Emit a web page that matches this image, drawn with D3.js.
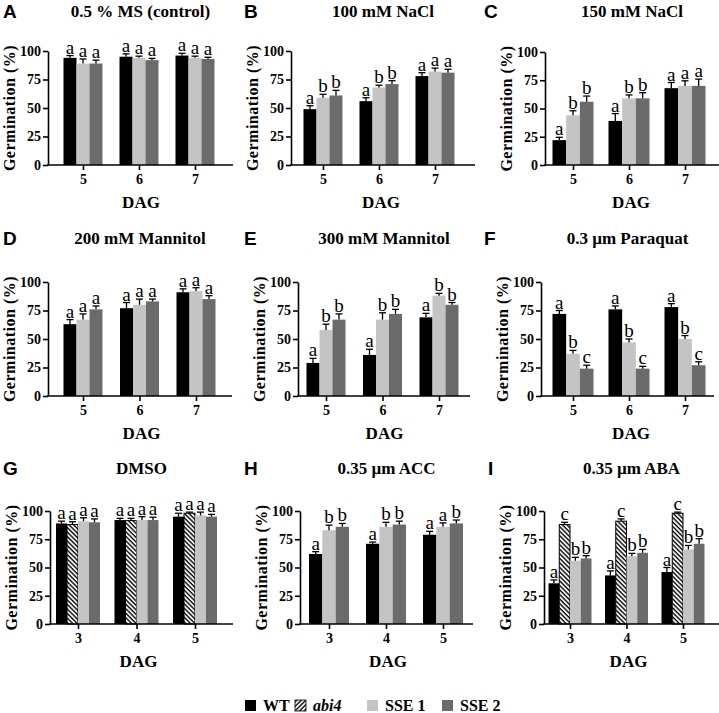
<!DOCTYPE html>
<html><head><meta charset="utf-8">
<script src="https://cdn.jsdelivr.net/npm/d3@7"></script>
<style>
body{margin:0;background:#fff}
svg{display:block}
</style></head>
<body>
<svg id="chart" width="719" height="713" style="font-family:'Liberation Serif','Times New Roman','DejaVu Serif',serif"></svg>
<script>
// ---------------- DATA ----------------
const panelLetters = ["A","B","C","D","E","F","G","H","I"];
const panelTitles = ["0.5 % MS (control)","100 mM NaCl","150 mM NaCl","200 mM Mannitol","300 mM Mannitol","0.3 \u00b5m Paraquat","DMSO","0.35 \u00b5m ACC","0.35 \u00b5m ABA"];
const daysEarly = ["5","6","7"];
const daysLate = ["3","4","5"];
const yTickValues = [0,25,50,75,100];
const seriesThree = ["WT","SSE 1","SSE 2"];
const seriesFour = ["WT","abi4","SSE 1","SSE 2"];
const legendSeries = ["WT","abi4","SSE 1","SSE 2"];

// means [series][day]
const meansA = [[94,95,96],[89,94,94],[89,92,93]];
const errsA  = [[2,2.5,2],[4,1.5,1.5],[3,1.5,1.5]];
const lettersA = [["a","a","a"],["a","a","a"],["a","a","a"]];

const meansB = [[49,56,78],[59,68,82],[61,71,81]];
const errsB  = [[3,3,3],[3,2,3],[4.5,3,3]];
const lettersB = [["a","a","a"],["b","b","a"],["b","b","a"]];

const meansC = [[22,39,68],[44,59,70],[56,59,70]];
const errsC  = [[2.5,6.5,5],[4,3,4.5],[5,5,6]];
const lettersC = [["a","a","a"],["b","b","a"],["b","b","a"]];

const meansD = [[63,77,91],[67,80,92],[76,83,85]];
const errsD  = [[4,5,3],[5,5,3],[3,2,3]];
const lettersD = [["a","a","a"],["a","a","a"],["a","a","a"]];

const meansE = [[29,36,69],[58,67,88],[67,72,80]];
const errsE  = [[4,5,3.5],[5,6,2],[5,4,2]];
const lettersE = [["a","a","a"],["b","b","b"],["b","b","b"]];

const meansF = [[72,76,78],[37,47,50],[24,24,27]];
const errsF  = [[3,3,3],[3,3,3],[3,2,3]];
const lettersF = [["a","a","a"],["b","b","b"],["c","c","c"]];

const meansG = [[89,92,95],[88,91.5,98],[91,92,96],[90,92,95]];
const errsG  = [[2,1.5,3],[2.5,2,1],[3,3,3],[3,2.5,2]];
const lettersG = [["a","a","a"],["a","a","a"],["a","a","a"],["a","a","a"]];

const meansH = [[62,71,79],[83,86,86],[86,88,89]];
const errsH  = [[2,1.5,3],[4.5,4,3.5],[3,3,3]];
const lettersH = [["a","a","a"],["b","b","a"],["b","b","b"]];

const meansI = [[36,43,46],[88,91,98],[56,60,66],[58,63,71]];
const errsI  = [[3,4,4],[2,2,1],[3,2.5,3.5],[2.5,3,4.5]];
const lettersI = [["a","a","a"],["c","c","c"],["b","b","b"],["b","b","b"]];

// ---------------- LAYOUT ----------------
const SERIF = "'Liberation Serif','Times New Roman','DejaVu Serif',serif";
const SANS = "'Liberation Sans',Arial,sans-serif";
const frames = [
  {x0:48, x1:233, t0:83,  t2:195, yTop:51,  yBot:165, lx:3,   ty:17,  gw:39},
  {x0:291,x1:475, t0:323, t2:435, yTop:51,  yBot:165, lx:244, ty:17,  gw:39},
  {x0:545,x1:719, t0:573, t2:685, yTop:52,  yBot:165, lx:484, ty:17,  gw:41},
  {x0:48, x1:232, t0:83,  t2:196, yTop:282, yBot:396, lx:3,   ty:244, gw:39},
  {x0:298,x1:470, t0:326, t2:439, yTop:282, yBot:396, lx:244, ty:244, gw:39},
  {x0:541,x1:714, t0:573, t2:685, yTop:282, yBot:396, lx:484, ty:244, gw:41},
  {x0:50, x1:233, t0:78,  t2:195, yTop:511, yBot:624, lx:3,   ty:474, gw:44},
  {x0:300,x1:473, t0:329, t2:443, yTop:511, yBot:624, lx:244, ty:474, gw:40},
  {x0:544,x1:719, t0:570, t2:683, yTop:511, yBot:624, lx:488, ty:474, gw:43}
];

const panelData = [
  {days:daysEarly, series:seriesThree, means:meansA, errs:errsA, letters:lettersA},
  {days:daysEarly, series:seriesThree, means:meansB, errs:errsB, letters:lettersB},
  {days:daysEarly, series:seriesThree, means:meansC, errs:errsC, letters:lettersC},
  {days:daysEarly, series:seriesThree, means:meansD, errs:errsD, letters:lettersD},
  {days:daysEarly, series:seriesThree, means:meansE, errs:errsE, letters:lettersE},
  {days:daysEarly, series:seriesThree, means:meansF, errs:errsF, letters:lettersF},
  {days:daysLate,  series:seriesFour,  means:meansG, errs:errsG, letters:lettersG},
  {days:daysLate,  series:seriesThree, means:meansH, errs:errsH, letters:lettersH},
  {days:daysLate,  series:seriesFour,  means:meansI, errs:errsI, letters:lettersI}
];

const fillFor = {"WT":"#000000","abi4":"url(#hatchBack)","SSE 1":"#c4c4c4","SSE 2":"#6b6b6b"};

const svg = d3.select("#chart");
const defs = svg.append("defs");
function makeHatch(id, angle){
  const p = defs.append("pattern").attr("id",id).attr("patternUnits","userSpaceOnUse")
    .attr("width",3.2).attr("height",3.2).attr("patternTransform",`rotate(${angle})`);
  p.append("rect").attr("width",3.2).attr("height",3.2).attr("fill","#fff");
  p.append("line").attr("x1",1).attr("y1",0).attr("x2",1).attr("y2",3.2)
    .attr("stroke","#000").attr("stroke-width",1.4);
}
makeHatch("hatchBack",-45);
makeHatch("hatchFwd",45);

function serifText(sel, size, weight){
  return sel.style("font-family",SERIF).style("font-size",size+"px").style("font-weight",weight||"normal");
}

panelData.forEach((pd,i)=>{
  const f = frames[i];
  const g = svg.append("g");
  const x = d3.scalePoint().domain(pd.days).range([f.t0,f.t2]);
  const y = d3.scaleLinear().domain([0,100]).range([f.yBot,f.yTop]);
  const inner = d3.scaleBand().domain(pd.series).range([-f.gw/2,f.gw/2]).padding(0);

  // panel letter
  g.append("text").attr("x",f.lx).attr("y",f.ty+1)
    .style("font-family",SANS).style("font-weight","bold")
    .style("font-size","19px").text(panelLetters[i]);
  // title
  serifText(g.append("text").attr("x",(f.x0+f.x1)/2).attr("y",f.ty).attr("text-anchor","middle"),17,"bold")
    .text(panelTitles[i]);

  // bars
  pd.series.forEach((s,si)=>{
    pd.days.forEach((d,di)=>{
      const v = pd.means[si][di], e = pd.errs[si][di];
      const bx = x(d)+inner(s), bw = inner.bandwidth();
      g.append("rect").attr("x",bx).attr("y",y(v)).attr("width",bw).attr("height",y(0)-y(v))
        .attr("fill",fillFor[s])
        .attr("stroke", s==="abi4" ? "#000" : "none").attr("stroke-width",1);
      const cx = bx+bw/2;
      g.append("line").attr("x1",cx).attr("x2",cx).attr("y1",y(v)).attr("y2",y(v+e))
        .attr("stroke","#000").attr("stroke-width",1.3);
      g.append("line").attr("x1",cx-3.5).attr("x2",cx+3.5).attr("y1",y(v+e)).attr("y2",y(v+e))
        .attr("stroke","#000").attr("stroke-width",1.3);
      serifText(g.append("text").attr("x",cx).attr("y",y(v+e)-2).attr("text-anchor","middle"),19,"normal")
        .text(pd.letters[si][di]);
    });
  });

  // y axis
  const ya = g.append("g").attr("transform",`translate(${f.x0},0)`)
    .call(d3.axisLeft(y).tickValues(yTickValues).tickSize(5).tickSizeOuter(0).tickPadding(2));
  ya.attr("font-family",null);
  ya.select(".domain").attr("stroke","#000").attr("stroke-width",1.6);
  ya.selectAll(".tick line").attr("stroke","#000").attr("stroke-width",1.6);
  serifText(ya.selectAll(".tick text"),14,"bold").attr("fill","#000");

  // x axis
  const xa = g.append("g").attr("transform",`translate(0,${f.yBot})`)
    .call(d3.axisBottom(x).tickSize(5).tickSizeOuter(0).tickPadding(4));
  xa.attr("font-family",null);
  xa.select(".domain").remove();
  xa.selectAll(".tick line").attr("stroke","#000").attr("stroke-width",1.6);
  serifText(xa.selectAll(".tick text"),14,"bold").attr("fill","#000");
  g.append("line").attr("x1",f.x0-0.8).attr("x2",f.x1).attr("y1",f.yBot).attr("y2",f.yBot)
    .attr("stroke","#000").attr("stroke-width",1.6);

  // axis labels
  serifText(g.append("text").attr("transform",`translate(${f.x0-33},${(f.yTop+f.yBot)/2}) rotate(-90)`)
    .attr("text-anchor","middle"),16,"bold").style("letter-spacing","0.5px")
    .text("Germination (%)");
  serifText(g.append("text").attr("x",(f.t0+f.t2)/2+2).attr("y",f.yBot+43).attr("text-anchor","middle"),17,"bold")
    .text("DAG");
});

// legend
const legendX = [245,295,367,442];
const lg = svg.append("g");
legendSeries.forEach((s,i)=>{
  lg.append("rect").attr("x",legendX[i]).attr("y",700).attr("width",11).attr("height",11)
    .attr("fill", s==="abi4" ? "url(#hatchFwd)" : fillFor[s])
    .attr("stroke", s==="abi4" ? "#000" : "none").attr("stroke-width",0.8);
  serifText(lg.append("text").attr("x",legendX[i]+18).attr("y",711),16,"bold")
    .style("font-style", s==="abi4" ? "italic" : "normal").text(s);
});
</script>
</body></html>
